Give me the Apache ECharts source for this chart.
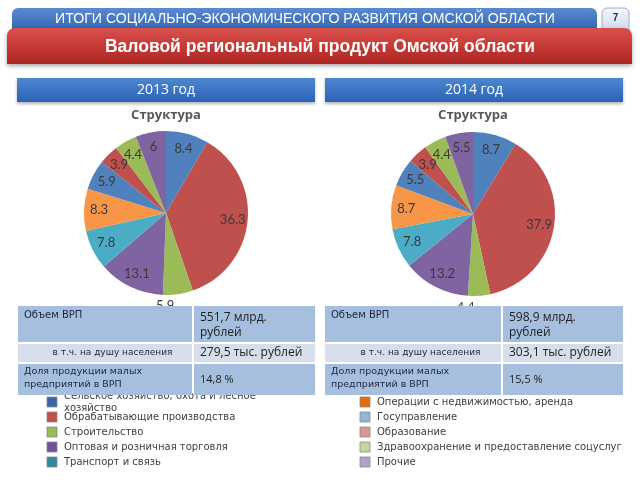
<!DOCTYPE html>
<html><head><meta charset="utf-8">
<script src="https://cdn.jsdelivr.net/npm/echarts@6/dist/echarts.min.js"></script>
<style>html,body{margin:0;padding:0;background:#fff}#c{width:640px;height:480px}</style>
</head><body><div id="c"></div>
<script>
// ---- data ----
const pageTitle = 'ИТОГИ СОЦИАЛЬНО-ЭКОНОМИЧЕСКОГО РАЗВИТИЯ ОМСКОЙ ОБЛАСТИ';
const pageNumber = '7';
const mainTitle = 'Валовой региональный продукт Омской области';
const years = ['2013 год', '2014 год'];
const chartTitle = 'Структура';
const categories = [
  'Сельское хозяйство, охота и лесное хозяйство',
  'Обрабатывающие производства',
  'Строительство',
  'Оптовая и розничная торговля',
  'Транспорт и связь',
  'Операции с недвижимостью, аренда',
  'Госуправление',
  'Образование',
  'Здравоохранение и предоставление соцуслуг',
  'Прочие'
];
const values2013 = [8.4, 36.3, 5.9, 13.1, 7.8, 8.3, 5.9, 3.9, 4.4, 6];
const values2014 = [8.7, 37.9, 4.4, 13.2, 7.8, 8.7, 5.5, 3.9, 4.4, 5.5];
const tableRowLabels = ['Объем ВРП', 'в т.ч. на душу населения', 'Доля продукции малых\nпредприятий в ВРП'];
const table2013 = ['551,7 млрд.\nрублей', '279,5 тыс. рублей', '14,8 %'];
const table2014 = ['598,9 млрд.\nрублей', '303,1 тыс. рублей', '15,5 %'];

// ---- style ----
const sliceColors = ['#4F81BD','#C0504D','#9BBB59','#8064A2','#4BACC6','#F79646','#4F81BD','#C0504D','#9BBB59','#8064A2'];
const legendColors = ['#3B65A3','#C0504D','#9BBB59','#6E5494','#31879E','#E46C0A','#95B3D7','#D99694','#C3D69B','#B3A2C7'];
const centers = [[166, 213], [473, 214]];
const R = 82;
const tableX = [[18, 193, 315], [325, 502, 623]];

const chart = echarts.init(document.getElementById('c'), null, {renderer: 'canvas'});
const g = [];
function txt(x, y, text, o) {
  const el = {type: 'text', z: o.z || 50, style: {x: 0, y: 0, text: text,
    textAlign: o.align || 'left', textVerticalAlign: o.va || 'middle',
    align: o.align || 'left', verticalAlign: o.va || 'middle',
    fill: o.fill || '#000', fontSize: o.size || 12, fontFamily: o.family || 'Liberation Sans',
    fontWeight: o.weight || 'normal', lineHeight: o.lh}, x: x, y: y};
  if (o.sx) { el.scaleX = o.sx; }
  g.push(el);
}
// header blue bar
g.push({type: 'rect', z: 10, shape: {x: 12, y: 8, width: 585, height: 24, r: [6, 6, 0, 0]},
  style: {fill: new echarts.graphic.LinearGradient(0, 0, 0, 1, [{offset: 0, color: '#5A8BD0'}, {offset: 1, color: '#2F62B0'}])}});
txt(305, 19, pageTitle, {fill: '#fff', size: 15, family: 'Liberation Sans', align: 'center', z: 12, sx: 0.94});
// page number box
g.push({type: 'rect', z: 10, shape: {x: 602, y: 8, width: 27, height: 26, r: [5, 5, 0, 0]},
  style: {fill: new echarts.graphic.LinearGradient(0, 0, 0, 1, [{offset: 0, color: '#F4F7FC'}, {offset: 1, color: '#C9D6EA'}]), stroke: '#9AAECB', lineWidth: 1}});
txt(615.5, 18, pageNumber, {fill: '#1F2F55', size: 10, weight: 'bold', align: 'center', z: 12});
// red bar
g.push({type: 'rect', z: 14, shape: {x: 7, y: 28, width: 625, height: 36, r: [8, 8, 0, 0]},
  style: {fill: new echarts.graphic.LinearGradient(0, 0, 0, 1, [{offset: 0, color: '#D8504C'}, {offset: 0.5, color: '#C83A36'}, {offset: 1, color: '#A92522'}]),
    shadowBlur: 4, shadowOffsetY: 2, shadowColor: 'rgba(0,0,0,0.35)'}});
txt(320, 47, mainTitle, {fill: '#fff', size: 17.5, weight: 'bold', align: 'center', z: 16});
// year boxes + titles
years.forEach((y, i) => {
  const x0 = tableX[i][0] - (i === 0 ? 1 : 0), x1 = tableX[i][2];
  g.push({type: 'rect', z: 10, shape: {x: x0, y: 78, width: x1 - x0, height: 24},
    style: {fill: new echarts.graphic.LinearGradient(0, 0, 0, 1, [{offset: 0, color: '#4D86D2'}, {offset: 1, color: '#2C62B4'}]),
      shadowBlur: 3, shadowOffsetY: 2, shadowColor: 'rgba(0,0,0,0.3)'}});
  txt((x0 + x1) / 2, 90, y, {fill: '#fff', size: 14, family: 'Open Sans', align: 'center', z: 12});
  txt(centers[i][0], 115, chartTitle, {fill: '#595959', size: 13, weight: 'bold', family: 'Open Sans', align: 'center', z: 12});
});
// tables
[table2013, table2014].forEach((vals, i) => {
  const [a, b, c] = tableX[i];
  const rows = [[306, 36, '#A7BFDE'], [344, 18, '#D5DEEA'], [364, 31, '#A7BFDE']];
  rows.forEach((r, k) => {
    g.push({type: 'rect', z: 60, shape: {x: a, y: r[0], width: b - a - 1, height: r[1]}, style: {fill: r[2]}});
    g.push({type: 'rect', z: 60, shape: {x: b + 1, y: r[0], width: c - b - 1, height: r[1]}, style: {fill: r[2]}});
  });
  txt(a + 6, 315, tableRowLabels[0], {fill: '#1B2440', size: 10, family: 'DejaVu Sans', z: 62});
  txt((a + b) / 2 + 7, 353, tableRowLabels[1], {fill: '#1B2440', size: 9, family: 'DejaVu Sans', align: 'center', z: 62});
  txt(a + 6, 378, tableRowLabels[2], {fill: '#1B2440', size: 9.5, family: 'DejaVu Sans', lh: 13, z: 62});
  txt(b + 7, 325, vals[0], {fill: '#1E1E1E', size: 12, family: 'Open Sans', lh: 15, z: 62});
  txt(b + 7, 353, vals[1], {fill: '#1E1E1E', size: 12, family: 'Open Sans', z: 62});
  txt(b + 7, 380, vals[2], {fill: '#1E1E1E', size: 11, family: 'Open Sans', z: 62});
});
// legend
categories.forEach((name, k) => {
  const col = k < 5 ? 0 : 1, row = k % 5;
  const sx = col === 0 ? 47 : 360, cy = 402 + row * 15;
  g.push({type: 'rect', z: 30, shape: {x: sx, y: cy - 5, width: 10, height: 10},
    style: {fill: legendColors[k], stroke: '#8C8C8C', lineWidth: 0.8}});
  const t = (k === 0) ? 'Сельское хозяйство, охота и лесное\nхозяйство' : name;
  txt(sx + 17, cy, t, {fill: '#404040', size: 10, family: 'DejaVu Sans', lh: 12, z: 30});
});

function pieSeries(vals, i) {
  const data = vals.map((v, k) => ({name: categories[k], value: v, itemStyle: {color: sliceColors[k]}}));
  const lblData = vals.map((v, k) => (k === 2
    ? {name: categories[k], value: v, label: {position: 'outside'}, labelLine: {show: false, length: 8, length2: 0}}
    : {name: categories[k], value: v}));
  return [
    {type: 'pie', center: centers[i], radius: [0, R], startAngle: 90, clockwise: true, silent: true,
      label: {show: false}, labelLine: {show: false}, itemStyle: {borderWidth: 0}, data: data, animation: false, z: 2},
    {type: 'pie', center: centers[i], radius: [46, R], startAngle: 90, clockwise: true, silent: true,
      avoidLabelOverlap: false, animation: false, z: 3,
      itemStyle: {color: 'rgba(0,0,0,0)', borderWidth: 0},
      label: {show: true, position: 'inside', formatter: '{c}', color: '#3A3A3A', fontSize: 13, fontFamily: 'Lato'},
      labelLayout: (p) => (p.dataIndex === 2 ? {dx: -(p.labelRect.width + 10), dy: 4} : {}),
      labelLine: {show: false}, data: lblData}
  ];
}
chart.setOption({
  backgroundColor: '#ffffff',
  animation: false,
  graphic: {elements: g},
  series: [].concat(pieSeries(values2013, 0), pieSeries(values2014, 1))
});
</script></body></html>
